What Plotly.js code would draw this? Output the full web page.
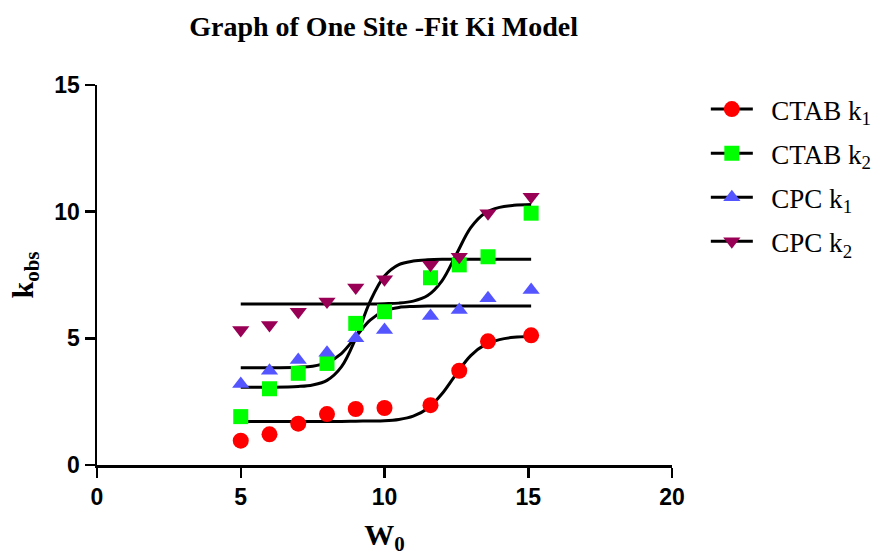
<!DOCTYPE html>
<html>
<head>
<meta charset="utf-8">
<script src="https://cdn.plot.ly/plotly-3.0.1.min.js"></script>
<style>html,body{margin:0;padding:0;background:#fff;}#chart{width:888px;height:556px;}</style>
</head>
<body>
<div id="chart"></div>
<script>
// Data points
const w0 = [5, 6, 7, 8, 9, 10, 11.6, 12.6, 13.6, 15.1];
const ctabK1 = [0.96, 1.21, 1.63, 2.01, 2.21, 2.25, 2.36, 3.72, 4.88, 5.12];
const ctabK2 = [1.91, 3.01, 3.62, 4.01, 5.59, 6.05, 7.39, 7.90, 8.22, 9.94];
const cpcK1  = [3.20, 3.72, 4.14, 4.43, 5.00, 5.33, 5.88, 6.12, 6.58, 6.91];
const cpcK2  = [5.33, 5.53, 6.05, 6.45, 7.01, 7.33, 7.90, 8.22, 9.94, 10.59];

// Fitted curves
const fitX = [5, 6, 7, 7.5, 8, 8.5, 9, 9.5, 10, 10.5, 11, 11.5, 12, 12.5, 13, 13.5, 14, 14.5, 15.1];
const fitCtabK1 = [1.72, 1.72, 1.72, 1.72, 1.72, 1.72, 1.73, 1.74, 1.75, 1.80, 1.93, 2.23, 2.81, 3.60, 4.32, 4.75, 4.95, 5.04, 5.07];
const fitCtabK2 = [3.07, 3.07, 3.10, 3.16, 3.34, 3.87, 5.00, 6.46, 7.46, 7.91, 8.05, 8.10, 8.12, 8.12, 8.12, 8.12, 8.12, 8.12, 8.12];
const fitCpcK1  = [3.84, 3.84, 3.86, 3.90, 4.04, 4.40, 5.06, 5.72, 6.08, 6.22, 6.26, 6.28, 6.28, 6.28, 6.28, 6.28, 6.28, 6.28, 6.28];
const fitCpcK2  = [6.36, 6.36, 6.36, 6.36, 6.36, 6.36, 6.36, 6.36, 6.37, 6.39, 6.47, 6.69, 7.27, 8.32, 9.37, 9.95, 10.17, 10.25, 10.28];

const names = ['CTAB k<sub>1</sub>', 'CTAB k<sub>2</sub>', 'CPC k<sub>1</sub>', 'CPC k<sub>2</sub>'];
const colors = ['#ff0000', '#00ff00', '#5555ff', '#990055'];
const symbols = ['circle', 'square', 'triangle-up', 'triangle-down'];
const sizes = [16, 15, 15, 15];
const pts = [ctabK1, ctabK2, cpcK1, cpcK2];
const fits = [fitCtabK1, fitCtabK2, fitCpcK1, fitCpcK2];

const traces = [];
for (let i = 0; i < 4; i++) {
  traces.push({x: fitX, y: fits[i], mode: 'lines', line: {color: '#000', width: 3, shape: 'spline'}, showlegend: false, hoverinfo: 'skip'});
}
for (let i = 0; i < 4; i++) {
  traces.push({x: w0, y: pts[i], mode: 'markers', marker: {color: colors[i], symbol: symbols[i], size: sizes[i]}, showlegend: false});
}
for (let i = 0; i < 4; i++) {
  traces.push({x: [null], y: [null], mode: 'lines+markers', name: '\u00a0\u00a0' + names[i], legendgroup: 'g' + i,
    line: {color: '#000', width: 3}, marker: {color: colors[i], symbol: symbols[i], size: sizes[i]}});
}

const serif = 'Liberation Serif, Times New Roman, serif';
const layout = {
  width: 888, height: 556,
  margin: {l: 97, r: 215, t: 85, b: 91},
  paper_bgcolor: '#fff', plot_bgcolor: '#fff',
  title: {text: '<b>Graph of One Site -Fit Ki Model</b>', x: 0.432, xanchor: 'center', y: 0.952, yanchor: 'middle',
    font: {family: serif, size: 28, color: '#000'}},
  xaxis: {range: [0, 20], tickvals: [0, 5, 10, 15, 20], showgrid: false, zeroline: false,
    showline: true, linecolor: '#000', linewidth: 2.5, ticks: 'outside', ticklen: 10, tickwidth: 2.5, tickcolor: '#000',
    tickfont: {family: 'Liberation Sans, Arial, sans-serif', size: 23, color: '#000', weight: 'bold'},
    title: {text: '<b>W<sub>0</sub></b>', font: {family: serif, size: 30, color: '#000'}, standoff: 16}},
  yaxis: {range: [0, 15], tickvals: [0, 5, 10, 15], showgrid: false, zeroline: false,
    showline: true, linecolor: '#000', linewidth: 2.5, ticks: 'outside', ticklen: 10, tickwidth: 2.5, tickcolor: '#000',
    tickfont: {family: 'Liberation Sans, Arial, sans-serif', size: 23, color: '#000', weight: 'bold'},
    title: {text: '<b>k<sub>obs</sub></b>', font: {family: serif, size: 30, color: '#000'}, standoff: 12}},
  legend: {x: 1.057, xanchor: 'left', y: 1.0, yanchor: 'top', font: {family: serif, size: 27, color: '#000'},
    bgcolor: 'rgba(0,0,0,0)', tracegroupgap: 6, itemwidth: 42}
};

Plotly.newPlot('chart', traces, layout, {displayModeBar: false, staticPlot: true});
</script>
</body>
</html>
